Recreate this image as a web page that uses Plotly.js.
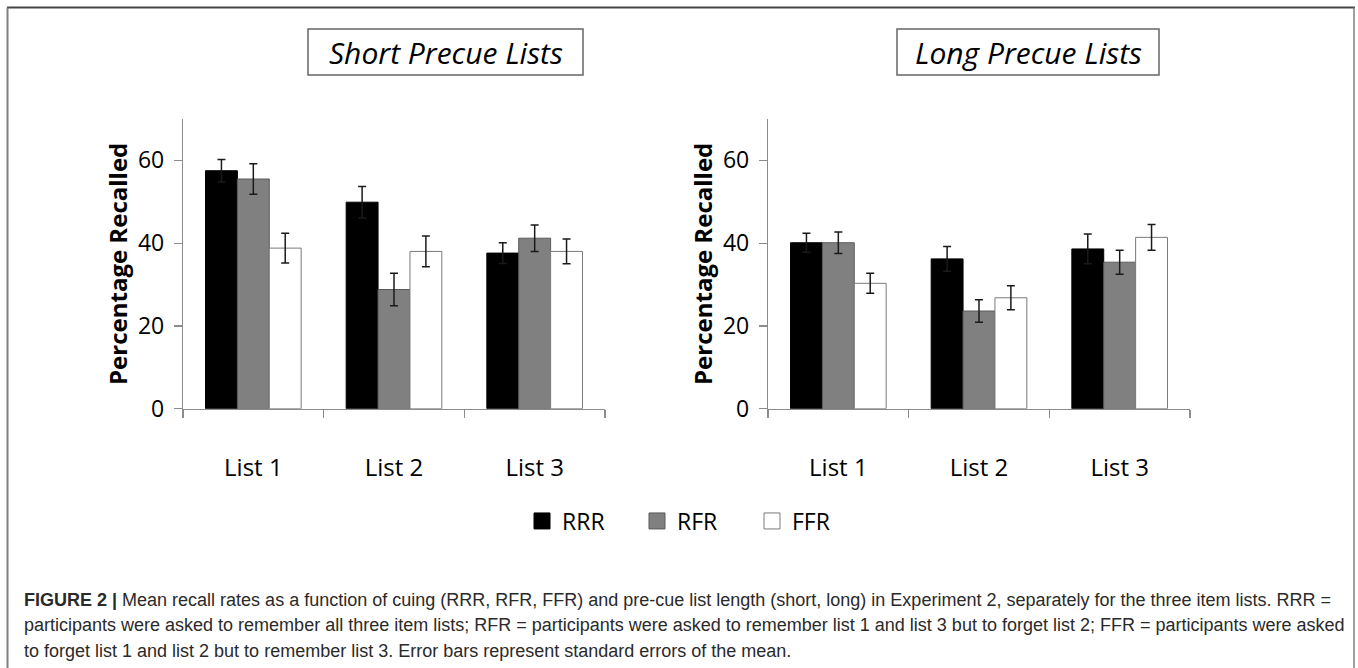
<!DOCTYPE html>
<html>
<head>
<meta charset="utf-8">
<script src="https://cdn.plot.ly/plotly-3.0.1.min.js"></script>
<style>
  html, body { margin: 0; padding: 0; background: #ffffff; }
  #chart { width: 1358px; height: 668px; }
</style>
</head>
<body>
<div id="chart"></div>
<script>
// ---- data ----
var categories = ['List 1', 'List 2', 'List 3'];
var seriesNames = ['RRR', 'RFR', 'FFR'];

var shortRRR = [57.5, 49.9, 37.6];
var shortRRRErr = [2.7, 3.8, 2.5];
var shortRFR = [55.5, 28.8, 41.2];
var shortRFRErr = [3.7, 3.9, 3.2];
var shortFFR = [38.8, 38.0, 38.0];
var shortFFRErr = [3.6, 3.7, 3.0];

var longRRR = [40.1, 36.2, 38.6];
var longRRRErr = [2.3, 3.0, 3.6];
var longRFR = [40.1, 23.6, 35.4];
var longRFRErr = [2.6, 2.7, 2.9];
var longFFR = [30.3, 26.8, 41.4];
var longFFRErr = [2.4, 2.9, 3.1];

var yTickVals = [0, 20, 40, 60];
var panelTitles = ['Short Precue Lists', 'Long Precue Lists'];
var yTitle = 'Percentage Recalled';
var captionLines = [
  '<b>FIGURE 2 |</b> Mean recall rates as a function of cuing (RRR, RFR, FFR) and pre-cue list length (short, long) in Experiment 2, separately for the three item lists. RRR =',
  'participants were asked to remember all three item lists; RFR = participants were asked to remember list 1 and list 3 but to forget list 2; FFR = participants were asked',
  'to forget list 1 and list 2 but to remember list 3. Error bars represent standard errors of the mean.'
];

// ---- styles ----
var W = 1358, H = 668;
var fills = ['#000000', '#808080', '#ffffff'];
var outlines = ['#000000', '#5a5a5a', '#7a7a7a'];
var uiFont = 'Open Sans, Lato, sans-serif';

function px(x) { return x / W; }
function py(y) { return 1 - y / H; }

function bar(name, vals, errs, idx, xa, ya) {
  return {
    type: 'bar', name: name, x: categories, y: vals,
    xaxis: xa, yaxis: ya, showlegend: false, legendgroup: name,
    marker: { color: fills[idx], line: { color: outlines[idx], width: 1 } },
    error_y: { type: 'data', array: errs, visible: true, color: '#1a1a1a', thickness: 1.5, width: 4 },
    hoverinfo: 'x+y'
  };
}
// legend-only keys (larger square swatches like the original)
function legendKey(name, idx) {
  return {
    type: 'scatter', mode: 'markers', name: name, x: [null], y: [null],
    xaxis: 'x', yaxis: 'y', showlegend: true, legendgroup: name,
    marker: { symbol: 'square', size: 16, color: fills[idx], line: { color: outlines[idx], width: 1 } },
    hoverinfo: 'skip'
  };
}

var traces = [
  bar(seriesNames[0], shortRRR, shortRRRErr, 0, 'x', 'y'),
  bar(seriesNames[1], shortRFR, shortRFRErr, 1, 'x', 'y'),
  bar(seriesNames[2], shortFFR, shortFFRErr, 2, 'x', 'y'),
  bar(seriesNames[0], longRRR, longRRRErr, 0, 'x2', 'y2'),
  bar(seriesNames[1], longRFR, longRFRErr, 1, 'x2', 'y2'),
  bar(seriesNames[2], longFFR, longFFRErr, 2, 'x2', 'y2'),
  legendKey(seriesNames[0], 0),
  legendKey(seriesNames[1], 1),
  legendKey(seriesNames[2], 2)
];

var yDomain = [py(408.7), py(119)];

function xAxis(domain, anchor) {
  return {
    domain: domain, anchor: anchor, type: 'category',
    showline: true, linecolor: '#8c8c8c', linewidth: 1.2,
    ticks: 'outside', tickson: 'boundaries', ticklen: 8, tickcolor: '#8c8c8c', tickwidth: 1.2,
    tickfont: { family: uiFont, size: 24, color: '#000000' },
    ticklabelstandoff: 37,
    showgrid: false, zeroline: false, fixedrange: true
  };
}
function yAxis(anchor) {
  return {
    domain: yDomain, anchor: anchor, range: [0, 70],
    tickvals: yTickVals, ticks: 'outside', ticklen: 8, tickcolor: '#8c8c8c', tickwidth: 1.2,
    showline: true, linecolor: '#8c8c8c', linewidth: 1.2,
    tickfont: { family: uiFont, size: 23, color: '#000000' },
    ticklabelstandoff: 5,
    title: { text: '<b>' + yTitle + '</b>', font: { family: uiFont, size: 24, color: '#000000' }, standoff: 3 },
    showgrid: false, zeroline: false, fixedrange: true
  };
}

var annotations = [];
var titleCenters = [445.5, 1028];
for (var i = 0; i < panelTitles.length; i++) {
  annotations.push({
    xref: 'paper', yref: 'paper', x: px(titleCenters[i]), y: py(52),
    xanchor: 'center', yanchor: 'middle', showarrow: false,
    text: '<i>' + panelTitles[i] + '</i>',
    font: { family: uiFont, size: 30, color: '#000000' }
  });
}
var captionY = [600, 625, 651];
for (var j = 0; j < captionLines.length; j++) {
  annotations.push({
    xref: 'paper', yref: 'paper', x: px(22), y: py(captionY[j]),
    xanchor: 'left', yanchor: 'middle', showarrow: false, align: 'left',
    text: captionLines[j],
    font: { family: 'Liberation Sans, Arial, sans-serif', size: 18, color: '#2a2a2a' }
  });
}

var shapes = [
  // title boxes
  { type: 'rect', xref: 'paper', yref: 'paper', x0: px(308), x1: px(583), y0: py(75), y1: py(29),
    line: { color: '#666666', width: 1.5 }, fillcolor: 'rgba(0,0,0,0)' },
  { type: 'rect', xref: 'paper', yref: 'paper', x0: px(897), x1: px(1159), y0: py(75), y1: py(29),
    line: { color: '#666666', width: 1.5 }, fillcolor: 'rgba(0,0,0,0)' },
  // figure frame
  { type: 'line', xref: 'paper', yref: 'paper', x0: px(7), x1: px(1355), y0: py(7.5), y1: py(7.5),
    line: { color: '#444444', width: 2 } },
  { type: 'line', xref: 'paper', yref: 'paper', x0: px(7.5), x1: px(7.5), y0: py(7.5), y1: py(670),
    line: { color: '#808080', width: 2 } },
  { type: 'line', xref: 'paper', yref: 'paper', x0: px(1354), x1: px(1354), y0: py(7.5), y1: py(670),
    line: { color: '#808080', width: 1.5 } }
];

var layout = {
  width: W, height: H,
  margin: { l: 0, r: 0, t: 0, b: 0, pad: 0 },
  paper_bgcolor: '#ffffff', plot_bgcolor: '#ffffff',
  barmode: 'group', bargap: 0.32, bargroupgap: 0,
  xaxis: xAxis([px(183), px(605)], 'y'),
  yaxis: yAxis('x'),
  xaxis2: xAxis([px(768), px(1190)], 'y2'),
  yaxis2: yAxis('x2'),
  showlegend: true,
  legend: {
    orientation: 'h', x: px(522), xanchor: 'left', y: py(521), yanchor: 'middle',
    font: { family: uiFont, size: 23, color: '#000000' },
    entrywidth: 70, entrywidthmode: 'pixels', itemsizing: 'trace',
    bgcolor: 'rgba(0,0,0,0)', traceorder: 'normal'
  },
  annotations: annotations,
  shapes: shapes,
  font: { family: uiFont }
};

Plotly.newPlot('chart', traces, layout, { staticPlot: true, displayModeBar: false });
</script>
</body>
</html>
